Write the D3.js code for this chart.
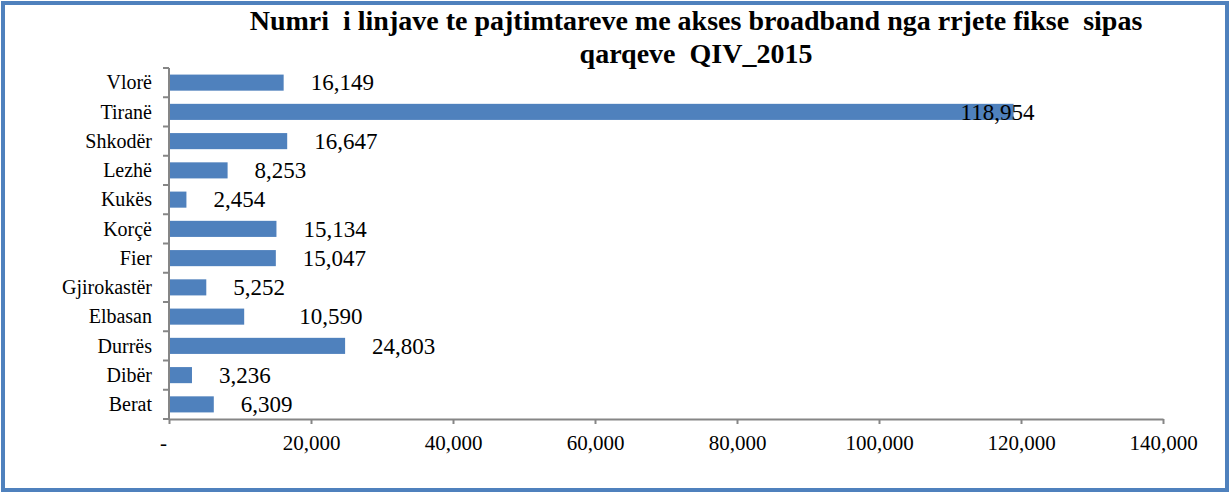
<!DOCTYPE html>
<html>
<head>
<meta charset="utf-8">
<script src="https://cdn.jsdelivr.net/npm/d3@7"></script>
<style>
  html, body { margin: 0; padding: 0; background: #fff; }
  svg text { font-family: "Liberation Serif", "Times New Roman", serif; fill: #000; }
</style>
</head>
<body>
<div id="root"></div>
<script>
'use strict';

var width = 1231;
var height = 494;
var serif = '"Liberation Serif", "Times New Roman", serif';

// data, top to bottom as in the picture
var regions = ['Vlorë', 'Tiranë', 'Shkodër', 'Lezhë', 'Kukës', 'Korçë', 'Fier', 'Gjirokastër', 'Elbasan', 'Durrës', 'Dibër', 'Berat'];
var lines = [16149, 118954, 16647, 8253, 2454, 15134, 15047, 5252, 10590, 24803, 3236, 6309];
var xTicks = [0, 20000, 40000, 60000, 80000, 100000, 120000, 140000];
var titleLines = ['Numri  i linjave te pajtimtareve me akses broadband nga rrjete fikse  sipas', 'qarqeve  QIV_2015'];

// hand placed labels in the original
var labelNudge = { 'Tiranë': -80, 'Elbasan': 28 };

var data = regions.map((r, i) => ({ name: r, value: lines[i] }));

var plot = { left: 169, right: 1163, top: 68, bottom: 419 };
var barColor = '#4f81bd';
var axisColor = '#868686';

var svg = d3.select('#root')
  .append('svg')
  .attr('width', width)
  .attr('height', height);

// frame
svg.append('rect')
  .attr('x', 3)
  .attr('y', 3)
  .attr('width', 1224)
  .attr('height', 487)
  .attr('fill', '#fff')
  .attr('stroke', barColor)
  .attr('stroke-width', 4);

var xScale = d3.scaleLinear()
  .domain([0, 140000])
  .range([plot.left, plot.right]);

var yScale = d3.scaleBand()
  .domain(regions)
  .range([plot.top, plot.bottom]);

var barH = yScale.bandwidth() * 0.55;

// title
svg.append('text')
  .attr('text-anchor', 'middle')
  .attr('font-family', serif)
  .attr('font-weight', 'bold')
  .attr('font-size', 28)
  .attr('xml:space', 'preserve')
  .style('white-space', 'pre')
  .selectAll('tspan')
  .data(titleLines)
  .enter()
  .append('tspan')
  .attr('x', 696)
  .attr('y', (d, i) => 30 + i * 33)
  .text(d => d);

// bars
svg.append('g')
  .selectAll('rect')
  .data(data)
  .enter()
  .append('rect')
  .attr('x', xScale(0))
  .attr('y', d => yScale(d.name) + (yScale.bandwidth() - barH) / 2)
  .attr('width', d => xScale(d.value) - xScale(0))
  .attr('height', barH)
  .attr('fill', barColor);

// value labels
svg.append('g')
  .selectAll('text')
  .data(data)
  .enter()
  .append('text')
  .attr('x', d => xScale(d.value) + 27 + (labelNudge[d.name] || 0))
  .attr('y', d => yScale(d.name) + yScale.bandwidth() / 2)
  .attr('dy', '0.34em')
  .attr('font-family', serif)
  .attr('font-size', 23)
  .text(d => d3.format(',')(d.value));

// y axis: line, ticks between categories, labels
var yAxis = svg.append('g');
yAxis.append('line')
  .attr('x1', plot.left).attr('x2', plot.left)
  .attr('y1', plot.top).attr('y2', plot.bottom)
  .attr('stroke', axisColor)
  .attr('stroke-width', 2);

var bounds = regions.map(r => yScale(r)).concat([plot.bottom]);
yAxis.selectAll('.ytick')
  .data(bounds)
  .enter()
  .append('line')
  .attr('class', 'ytick')
  .attr('x1', plot.left - 6).attr('x2', plot.left)
  .attr('y1', d => d).attr('y2', d => d)
  .attr('stroke', axisColor)
  .attr('stroke-width', 2);

yAxis.selectAll('.ylab')
  .data(regions)
  .enter()
  .append('text')
  .attr('class', 'ylab')
  .attr('x', 152)
  .attr('y', d => yScale(d) + yScale.bandwidth() / 2)
  .attr('dy', '0.34em')
  .attr('text-anchor', 'end')
  .attr('font-family', serif)
  .attr('font-size', 20)
  .text(d => d);

// x axis
var xAxis = svg.append('g')
  .attr('transform', `translate(0, ${plot.bottom})`)
  .call(d3.axisBottom(xScale)
    .tickValues(xTicks)
    .tickSize(5)
    .tickSizeOuter(0)
    .tickFormat(d => d === 0 ? '-' : d3.format(',')(d)));

xAxis.select('.domain')
  .attr('stroke', axisColor)
  .attr('stroke-width', 2);
xAxis.selectAll('.tick line')
  .attr('stroke', axisColor)
  .attr('stroke-width', 2);
xAxis.selectAll('.tick text')
  .attr('font-family', serif)
  .attr('font-size', 21)
  .attr('fill', '#000')
  .attr('y', 31)
  .attr('dy', 0)
  .attr('dx', d => d === 0 ? -6 : 0);
</script>
</body>
</html>
